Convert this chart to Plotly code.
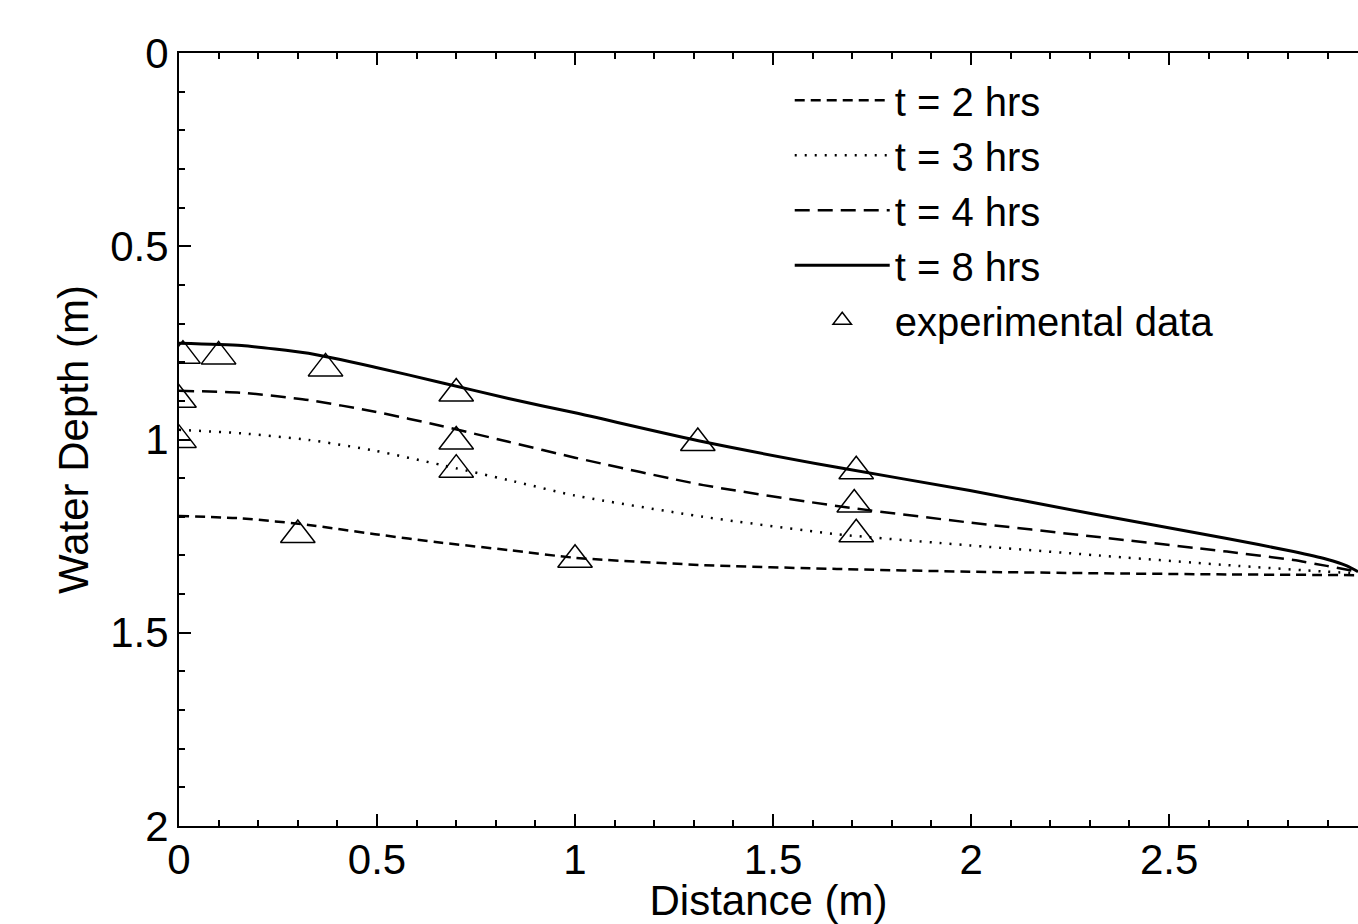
import plotly.graph_objects as go

# ---- data ----
x_t2 = [0.0, 0.158, 0.327, 0.495, 0.663, 0.832, 1.0, 1.324, 1.661, 1.997, 2.309, 2.646, 2.977]
y_t2 = [1.198, 1.204, 1.221, 1.245, 1.267, 1.286, 1.306, 1.325, 1.335, 1.342, 1.346, 1.349, 1.351]

x_t3 = [0.0, 0.158, 0.327, 0.495, 0.663, 0.832, 1.0, 1.324, 1.661, 1.997, 2.309, 2.646, 2.898, 2.977]
y_t3 = [0.975, 0.984, 1.001, 1.029, 1.066, 1.105, 1.145, 1.200, 1.245, 1.274, 1.299, 1.325, 1.342, 1.346]

x_t4 = [0.0, 0.158, 0.327, 0.495, 0.663, 0.832, 1.0, 1.324, 1.661, 1.997, 2.309, 2.646, 2.814, 2.898, 2.977]
y_t4 = [0.874, 0.879, 0.898, 0.928, 0.965, 1.006, 1.047, 1.118, 1.172, 1.215, 1.251, 1.290, 1.312, 1.327, 1.342]

x_t8 = [0.0, 0.158, 0.327, 0.495, 0.663, 0.832, 1.0, 1.324, 1.661, 1.997, 2.309, 2.646, 2.814, 2.898, 2.949, 2.977]
y_t8 = [0.751, 0.757, 0.777, 0.813, 0.853, 0.894, 0.931, 1.006, 1.072, 1.132, 1.193, 1.256, 1.290, 1.310, 1.327, 1.342]

x_exp = [0.01, 0.1, 0.37, 0.7, 0.0, 0.0, 0.7, 0.7, 0.3, 1.31, 1.71, 1.705, 1.71, 1.0]
y_exp = [0.783, 0.785, 0.816, 0.881, 0.897, 1.001, 1.005, 1.078, 1.247, 1.009, 1.082, 1.168, 1.245, 1.311]

names = ["t = 2 hrs", "t = 3 hrs", "t = 4 hrs", "t = 8 hrs", "experimental data"]

x_tickvals = [0, 0.5, 1, 1.5, 2, 2.5]
x_ticktext = ["0", "0.5", "1", "1.5", "2", "2.5"]
y_tickvals = [0, 0.5, 1, 1.5, 2]
y_ticktext = ["0", "0.5", "1", "1.5", "2"]

FONT = "Liberation Sans, Arial, Helvetica, sans-serif"

fig = go.Figure()
series = [(x_t2, y_t2, "10px,6px", 2.5), (x_t3, y_t3, "2px,8px", 2.5),
          (x_t4, y_t4, "15px,8px", 2.5), (x_t8, y_t8, "solid", 3)]
for i, (xs, ys, dash, w) in enumerate(series):
    fig.add_trace(go.Scatter(
        x=xs, y=ys, mode="lines", name=names[i],
        line=dict(color="black", width=w, dash=dash, shape="spline", smoothing=0.6),
    ))
fig.add_trace(go.Scatter(
    x=x_exp, y=y_exp, mode="markers", name=names[4],
    marker=dict(symbol="triangle-up-open", size=30, color="black", line=dict(width=1.5, color="black")),
))

fig.update_layout(
    width=1358, height=924,
    margin=dict(l=179, r=0, t=53, b=98),
    paper_bgcolor="white", plot_bgcolor="white",
    font=dict(family=FONT, size=42, color="black"),
    showlegend=True,
    legend=dict(x=0.518, y=0.981, xanchor="left", yanchor="top",
                bgcolor="rgba(0,0,0,0)", itemwidth=95, tracegroupgap=0,
                font=dict(size=40, family=FONT)),
    xaxis=dict(
        range=[0, 2.977], tickvals=x_tickvals, ticktext=x_ticktext,
        ticks="inside", ticklen=12, tickwidth=1.5, tickcolor="black",
        minor=dict(dtick=0.1, ticks="inside", ticklen=6, tickwidth=1.5, tickcolor="black", showgrid=False),
        showline=True, linecolor="black", linewidth=2, mirror="ticks",
        showgrid=False, zeroline=False, automargin=False,
        ticklabelstandoff=-4,
        tickfont=dict(size=42, family=FONT),
        title=dict(text="Distance (m)", font=dict(size=42, family=FONT), standoff=0),
    ),
    yaxis=dict(
        range=[2, 0], tickvals=y_tickvals, ticktext=y_ticktext,
        ticks="inside", ticklen=12, tickwidth=1.5, tickcolor="black",
        minor=dict(dtick=0.1, ticks="inside", ticklen=6, tickwidth=1.5, tickcolor="black", showgrid=False),
        showline=True, linecolor="black", linewidth=2, mirror=False,
        showgrid=False, zeroline=False, automargin=False,
        tickfont=dict(size=42, family=FONT),
        title=dict(text="Water Depth (m)", font=dict(size=42, family=FONT), standoff=9),
    ),
)

fig.write_html(
    "out.html",
    config={"displayModeBar": False},
    post_script="document.body.style.margin='0';document.body.style.overflow='hidden';",
)
